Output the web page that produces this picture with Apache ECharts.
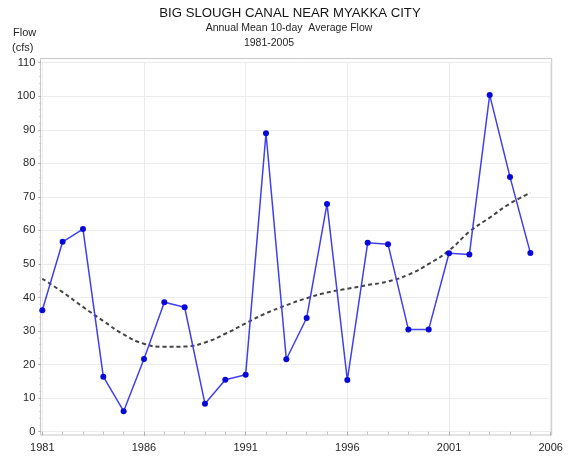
<!DOCTYPE html>
<html>
<head>
<meta charset="utf-8">
<script src="https://cdn.jsdelivr.net/npm/echarts@6/dist/echarts.min.js"></script>
<style>
  html, body { margin: 0; padding: 0; background: #ffffff; }
  #chart { width: 572px; height: 461px; }
</style>
</head>
<body>
<div id="chart"></div>
<script>
// Annual mean 10-day average flow, Big Slough Canal near Myakka City
const years = [1981, 1982, 1983, 1984, 1985, 1986, 1987, 1988, 1989, 1990,
               1991, 1992, 1993, 1994, 1995, 1996, 1997, 1998, 1999, 2000,
               2001, 2002, 2003, 2004, 2005];
const flow = [36.2, 56.6, 60.4, 16.4, 6.1, 21.7, 38.6, 37.1, 8.3, 15.5,
              17.0, 89.0, 21.6, 33.9, 67.9, 15.4, 56.3, 55.9, 30.5, 30.5,
              53.2, 52.8, 100.4, 75.9, 53.3];
// fitted trend curve, one value per year
const trend = [45.6, 41.6, 37.2, 33.0, 29.0, 26.2, 25.3, 25.4, 26.6, 29.2,
               32.3, 35.3, 37.7, 39.8, 41.5, 42.6, 43.7, 44.8, 46.8, 50.0,
               54.0, 59.6, 63.8, 68.0, 71.2];

const titleText = 'BIG SLOUGH CANAL NEAR MYAKKA CITY';
const subtitleText = 'Annual Mean 10-day  Average Flow';
const periodText = '1981-2005';
const yName = ['Flow', '(cfs)'];

const FONT = '"Liberation Sans", Arial, sans-serif';

const chart = echarts.init(document.getElementById('chart'), null, { renderer: 'canvas' });

chart.setOption({
  animation: false,
  backgroundColor: '#ffffff',
  grid: { left: 42.3, right: 21.3, top: 62.7, bottom: 29.3, containLabel: false },
  graphic: [
    { type: 'rect', z: 0, silent: true,
      shape: { x: 40.5, y: 58.5, width: 511.2, height: 376.5 },
      style: { fill: null, stroke: '#c8c8c8', lineWidth: 1 } },
    { type: 'text', x: 290, y: 13.5, silent: true,
      style: { text: titleText, font: '13.2px ' + FONT, fill: '#151515', align: 'center', verticalAlign: 'middle' } },
    { type: 'text', x: 289, y: 28.5, silent: true,
      style: { text: subtitleText, font: '10.5px ' + FONT, fill: '#262626', align: 'center', verticalAlign: 'middle' } },
    { type: 'text', x: 269, y: 43, silent: true,
      style: { text: periodText, font: '10.5px ' + FONT, fill: '#262626', align: 'center', verticalAlign: 'middle' } },
    { type: 'text', x: 13, y: 33, silent: true,
      style: { text: yName[0], font: '11px ' + FONT, fill: '#262626', align: 'left', verticalAlign: 'middle' } },
    { type: 'text', x: 12, y: 48, silent: true,
      style: { text: yName[1], font: '11px ' + FONT, fill: '#262626', align: 'left', verticalAlign: 'middle' } }
  ],
  xAxis: {
    type: 'value',
    min: 1981, max: 2006, interval: 5,
    offset: 3,
    axisLine: { show: false },
    axisTick: { show: true, inside: false, length: 4, lineStyle: { color: '#b0b0b0' } },
    minorTick: { show: true, splitNumber: 5, length: 3, lineStyle: { color: '#c0c0c0' } },
    splitLine: { show: true, lineStyle: { color: '#ececec', width: 1 } },
    axisLabel: { show: true, margin: 8, fontFamily: FONT, fontSize: 11, color: '#262626',
                 formatter: v => String(v) }
  },
  yAxis: {
    type: 'value',
    min: 0, max: 110, interval: 10,
    offset: 1,
    axisLine: { show: false },
    axisTick: { show: true, inside: false, length: 3, lineStyle: { color: '#b0b0b0' } },
    minorTick: { show: true, splitNumber: 5, length: 2, lineStyle: { color: '#c8c8c8' } },
    splitLine: { show: true, lineStyle: { color: '#ececec', width: 1 } },
    axisLabel: { show: true, margin: 6, fontFamily: FONT, fontSize: 11, color: '#262626' }
  },
  series: [
    {
      name: 'Trend',
      type: 'line',
      data: years.map((y, i) => [y, trend[i]]),
      smooth: 0.5,
      symbol: 'none',
      z: 2,
      lineStyle: { color: '#444444', width: 2, type: [4, 3] }
    },
    {
      name: 'Flow',
      type: 'line',
      data: years.map((y, i) => [y, flow[i]]),
      symbol: 'circle',
      symbolSize: 6,
      z: 3,
      lineStyle: { color: '#4040f0', width: 1.5 },
      itemStyle: { color: '#0808d8', borderWidth: 0 }
    }
  ]
});
</script>
</body>
</html>
